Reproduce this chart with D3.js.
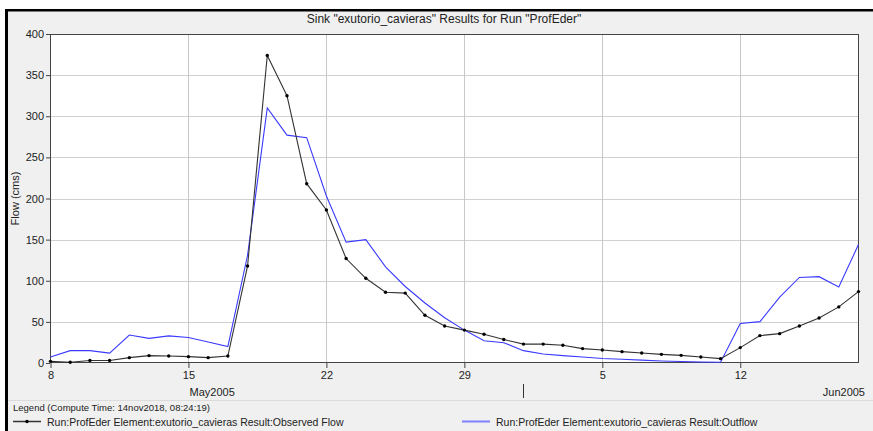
<!DOCTYPE html>
<html>
<head>
<meta charset="utf-8">
<script src="https://cdn.jsdelivr.net/npm/d3@7"></script>
<style>
  body { margin: 0; background: #fff; overflow: hidden; }
  text { font-family: "Liberation Sans", Arial, sans-serif; fill: #222; }
</style>
</head>
<body>
<div id="chart"></div>
<script>
// Step 1: data
var days = [
  "2005-05-08", "2005-05-09", "2005-05-10", "2005-05-11", "2005-05-12", "2005-05-13", "2005-05-14",
  "2005-05-15", "2005-05-16", "2005-05-17", "2005-05-18", "2005-05-19", "2005-05-20", "2005-05-21",
  "2005-05-22", "2005-05-23", "2005-05-24", "2005-05-25", "2005-05-26", "2005-05-27", "2005-05-28",
  "2005-05-29", "2005-05-30", "2005-05-31", "2005-06-01", "2005-06-02", "2005-06-03", "2005-06-04",
  "2005-06-05", "2005-06-06", "2005-06-07", "2005-06-08", "2005-06-09", "2005-06-10", "2005-06-11",
  "2005-06-12", "2005-06-13", "2005-06-14", "2005-06-15", "2005-06-16", "2005-06-17", "2005-06-18"
];

var observedFlow = [
  2, 1, 3, 3, 6.5, 9, 8.5,
  7.7, 6.5, 8.5, 118, 374, 325, 218,
  186, 127, 103, 86, 85, 58, 45,
  40, 35, 28.5, 23, 23, 21.5, 17.5,
  15.8, 13.8, 12.2, 10.5, 9.3, 7.3, 5.3,
  18.7, 33.3, 35.7, 45, 54.8, 68.2, 86.8
];

var outflow = [
  7.3, 15, 15, 12, 34, 30, 33,
  31, 25.5, 20, 131, 310, 277, 274,
  203, 147, 150, 117, 93, 73, 55,
  40, 27, 24.7, 15, 11, 9, 7.3,
  5.5, 4.5, 3.5, 2.5, 1.8, 1.2, 1,
  48, 50.3, 80, 104, 105, 92.5, 144
];

var weekTicks = ["2005-05-08", "2005-05-15", "2005-05-22", "2005-05-29", "2005-06-05", "2005-06-12"];
var yTicks = [0, 50, 100, 150, 200, 250, 300, 350, 400];
var monthLabels = ["May2005", "Jun2005"];
var monthStart = "2005-06-01";

var titleText = 'Sink "exutorio_cavieras" Results for Run "ProfEder"';
var legendTitle = "Legend (Compute Time: 14nov2018, 08:24:19)";
var seriesNames = [
  "Run:ProfEder Element:exutorio_cavieras Result:Observed Flow",
  "Run:ProfEder Element:exutorio_cavieras Result:Outflow"
];

// Step 2: workspace
var svgWidth = 873;
var svgHeight = 431;

var margin = { top: 34, right: 14, bottom: 68, left: 50 };
var width = svgWidth - margin.left - margin.right;
var height = svgHeight - margin.top - margin.bottom;

var parseDay = d3.utcParse("%Y-%m-%d");

var svg = d3.select("#chart")
  .append("svg")
  .attr("width", svgWidth)
  .attr("height", svgHeight);

// window frame
svg.append("rect")
  .attr("x", 5).attr("y", 9)
  .attr("width", svgWidth - 5).attr("height", svgHeight - 9)
  .attr("fill", "#f0f0f0");
svg.append("rect")
  .attr("x", 5).attr("y", 9)
  .attr("width", svgWidth - 5).attr("height", 2.5)
  .attr("fill", "#000");
svg.append("rect")
  .attr("x", 5).attr("y", 9)
  .attr("width", 3).attr("height", svgHeight - 9)
  .attr("fill", "#000");

svg.append("text")
  .attr("x", 444)
  .attr("y", 23)
  .attr("text-anchor", "middle")
  .style("font-size", "12px")
  .text(titleText);

var chartGroup = svg.append("g")
  .attr("transform", `translate(${margin.left}, ${margin.top})`);

// Step 3: scales
var xScale = d3.scaleUtc()
  .domain([parseDay(days[0]), parseDay(days[days.length - 1])])
  .range([0.5, width - 0.5]);

var yScale = d3.scaleLinear()
  .domain([0, 400])
  .range([height, 0]);

// plot background
chartGroup.append("rect")
  .attr("width", width)
  .attr("height", height)
  .attr("fill", "#fff");

// gridlines
chartGroup.selectAll("line.hgrid")
  .data(yTicks.slice(1, -1))
  .enter()
  .append("line")
  .attr("class", "hgrid")
  .attr("x1", 0).attr("x2", width)
  .attr("y1", d => Math.round(yScale(d)) + 0.5)
  .attr("y2", d => Math.round(yScale(d)) + 0.5)
  .attr("stroke", "#d0d0d0");

chartGroup.selectAll("line.vgrid")
  .data(weekTicks.slice(1))
  .enter()
  .append("line")
  .attr("class", "vgrid")
  .attr("y1", 0).attr("y2", height)
  .attr("x1", d => Math.round(xScale(parseDay(d))) + 0.5)
  .attr("x2", d => Math.round(xScale(parseDay(d))) + 0.5)
  .attr("stroke", "#c8c8c8");

// Step 4: axes
var xAxis = d3.axisBottom(xScale)
  .tickValues(weekTicks.map(parseDay))
  .tickFormat(d3.utcFormat("%-d"))
  .tickSizeInner(5)
  .tickSizeOuter(0)
  .tickPadding(3);

var yAxis = d3.axisLeft(yScale)
  .tickValues(yTicks)
  .tickSizeInner(4)
  .tickSizeOuter(0)
  .tickPadding(2);

var xg = chartGroup.append("g")
  .attr("transform", `translate(0, ${height})`)
  .call(xAxis);

var yg = chartGroup.append("g")
  .call(yAxis);

[xg, yg].forEach(g => {
  g.select(".domain").remove();
  g.selectAll("line").attr("stroke", "#444");
  g.selectAll("text").style("font-size", "11px").attr("fill", "#222");
});

// plot border
chartGroup.append("rect")
  .attr("x", 0.5).attr("y", 0.5)
  .attr("width", width - 1)
  .attr("height", height - 1)
  .attr("fill", "none")
  .attr("stroke", "#444");

// month labels
chartGroup.append("text")
  .attr("x", xScale(parseDay("2005-05-16")) + 4)
  .attr("y", height + 33)
  .attr("text-anchor", "middle")
  .style("font-size", "11px")
  .text(monthLabels[0]);

chartGroup.append("text")
  .attr("x", width + 6)
  .attr("y", height + 33)
  .attr("text-anchor", "end")
  .style("font-size", "11px")
  .text(monthLabels[1]);

chartGroup.append("line")
  .attr("x1", Math.round(xScale(parseDay(monthStart))) + 0.5)
  .attr("x2", Math.round(xScale(parseDay(monthStart))) + 0.5)
  .attr("y1", height + 21).attr("y2", height + 35)
  .attr("stroke", "#333");

// y label
svg.append("text")
  .attr("transform", `translate(19, ${margin.top + height / 2}) rotate(-90)`)
  .attr("text-anchor", "middle")
  .style("font-size", "11px")
  .text("Flow (cms)");

// Step 5: lines
var flowLine = d3.line()
  .x((d, i) => xScale(parseDay(days[i])))
  .y(d => yScale(d));

chartGroup.append("path")
  .datum(outflow)
  .attr("d", flowLine)
  .attr("fill", "none")
  .attr("stroke", "#3a3aff")
  .attr("stroke-width", 1.1);

chartGroup.append("path")
  .datum(observedFlow)
  .attr("d", flowLine)
  .attr("fill", "none")
  .attr("stroke", "#333")
  .attr("stroke-width", 1.1);

chartGroup.selectAll("circle.obs")
  .data(observedFlow)
  .enter()
  .append("circle")
  .attr("class", "obs")
  .attr("cx", (d, i) => xScale(parseDay(days[i])))
  .attr("cy", d => yScale(d))
  .attr("r", 1.7)
  .attr("fill", "#000");

// Step 6: legend
svg.append("line")
  .attr("x1", 8).attr("x2", svgWidth)
  .attr("y1", 400.5).attr("y2", 400.5)
  .attr("stroke", "#dcdcdc");

svg.append("text")
  .attr("x", 13)
  .attr("y", 411)
  .style("font-size", "9.5px")
  .text(legendTitle);

var legendX = [13, 462];
var legendColors = ["#333", "#8080ff"];

var legend = svg.selectAll("g.legend")
  .data(seriesNames)
  .enter()
  .append("g")
  .attr("class", "legend")
  .attr("transform", (d, i) => `translate(${legendX[i]}, 421.5)`);

legend.append("line")
  .attr("x1", 0).attr("x2", 28)
  .attr("stroke", (d, i) => legendColors[i])
  .attr("stroke-width", (d, i) => i === 0 ? 1.5 : 2);

legend.filter((d, i) => i === 0)
  .append("circle")
  .attr("cx", 14).attr("r", 1.7)
  .attr("fill", "#000");

legend.append("text")
  .attr("x", 34)
  .attr("y", 4)
  .style("font-size", "10.5px")
  .text(d => d);
</script>
</body>
</html>
